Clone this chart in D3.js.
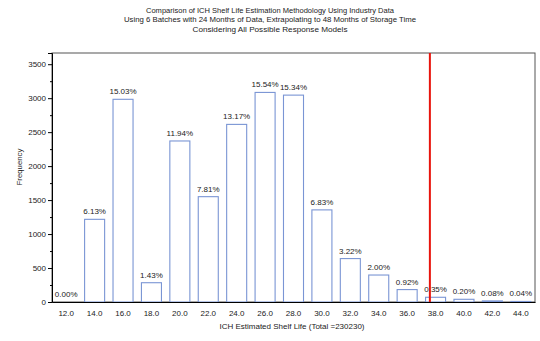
<!DOCTYPE html>
<html>
<head>
<meta charset="utf-8">
<script src="https://cdn.jsdelivr.net/npm/d3@7"></script>
<style>
  html, body { margin: 0; padding: 0; background: #fff; }
  svg { display: block; font-family: "Liberation Sans", Arial, sans-serif; }
</style>
</head>
<body>
<svg id="chart" width="540" height="341"></svg>
<script>
// Histogram bins (months) and the share of simulated shelf-life estimates in each
const binLabels = ["12.0","14.0","16.0","18.0","20.0","22.0","24.0","26.0","28.0","30.0","32.0","34.0","36.0","38.0","40.0","42.0","44.0"];
const binCenters = [12,14,16,18,20,22,24,26,28,30,32,34,36,38,40,42,44];
const percents = [0.00,6.13,15.03,1.43,11.94,7.81,13.17,15.54,15.34,6.83,3.22,2.00,0.92,0.35,0.20,0.08,0.04];
const sampleCount = 19850;          // number of estimates behind the percentages
const referenceLine = 37.6;         // red marker on the shelf-life axis
const yTicks = [0,500,1000,1500,2000,2500,3000,3500];
const yMinorTicks = [250,750,1250,1750,2250,2750,3250];
const titleLines = [
  "Comparison of ICH Shelf Life Estimation Methodology Using Industry Data",
  "Using 6 Batches with 24 Months of Data, Extrapolating to 48 Months of Storage Time",
  "Considering All Possible Response Models"
];
const xTitle = "ICH Estimated Shelf Life (Total =230230)";
const yTitle = "Frequency";

const freqs = percents.map(p => p / 100 * sampleCount);

const svg = d3.select("#chart");
const plot = { left: 52, right: 535, top: 53, bottom: 302 };
const textColor = "#222";

const x = d3.scaleBand()
  .domain(binLabels)
  .range([plot.left, plot.right])
  .paddingInner(0.26)
  .paddingOuter(0.13);

const xLin = d3.scaleLinear()
  .domain([binCenters[0], binCenters[binCenters.length - 1]])
  .range([x(binLabels[0]) + x.bandwidth() / 2, x(binLabels[binLabels.length - 1]) + x.bandwidth() / 2]);

const y = d3.scaleLinear().domain([0, 3665]).range([plot.bottom, plot.top]);

// Title
const titleWidths = [248, 292, 155];
svg.append("g").selectAll("text")
  .data(titleLines)
  .join("text")
  .attr("x", 270)
  .attr("y", (d, i) => 12.5 + i * 9.7)
  .attr("text-anchor", "middle")
  .attr("font-size", 7.8)
  .attr("fill", textColor)
  .attr("textLength", (d, i) => titleWidths[i])
  .attr("lengthAdjust", "spacingAndGlyphs")
  .text(d => d);

// Plot frame
svg.append("rect")
  .attr("x", plot.left).attr("y", plot.top)
  .attr("width", plot.right - plot.left).attr("height", plot.bottom - plot.top)
  .attr("fill", "none").attr("stroke", "#555").attr("stroke-width", 1);

// Bars
svg.append("g").selectAll("rect")
  .data(freqs)
  .join("rect")
  .attr("x", (d, i) => x(binLabels[i]) + 0.5)
  .attr("y", d => y(d))
  .attr("width", x.bandwidth() - 1)
  .attr("height", d => y(0) - y(d))
  .attr("fill", "#fff")
  .attr("stroke", "#7a95d4")
  .attr("stroke-width", 1.1);

// Percentage labels
svg.append("g").selectAll("text")
  .data(percents)
  .join("text")
  .attr("x", (d, i) => x(binLabels[i]) + x.bandwidth() / 2)
  .attr("y", (d, i) => y(freqs[i]) - 5)
  .attr("text-anchor", "middle")
  .attr("font-size", 8)
  .attr("fill", textColor)
  .text(d => d.toFixed(2) + "%");

// Reference line
svg.append("line")
  .attr("x1", xLin(referenceLine)).attr("x2", xLin(referenceLine))
  .attr("y1", plot.top).attr("y2", plot.bottom)
  .attr("stroke", "#e8140c").attr("stroke-width", 2);

// Y axis
const yAxis = d3.axisLeft(y).tickValues(yTicks).tickSize(4).tickPadding(2).tickFormat(d3.format("d"));
const gy = svg.append("g").attr("transform", `translate(${plot.left},0)`).call(yAxis);
gy.select(".domain").attr("stroke", "#000");
gy.selectAll(".tick line").attr("stroke", "#000");
gy.selectAll(".tick text").attr("font-size", 8).attr("fill", textColor)
  .attr("font-family", "Liberation Sans, Arial, sans-serif");
svg.append("g").selectAll("line")
  .data(yMinorTicks)
  .join("line")
  .attr("x1", plot.left - 2).attr("x2", plot.left)
  .attr("y1", d => y(d) + 0.5).attr("y2", d => y(d) + 0.5)
  .attr("stroke", "#000");

// X axis
const xAxis = d3.axisBottom(x).tickSize(0).tickPadding(8);
const gx = svg.append("g").attr("transform", `translate(0,${plot.bottom})`).call(xAxis);
gx.select(".domain").attr("stroke", "#000");
gx.selectAll(".tick text").attr("font-size", 8).attr("fill", textColor)
  .attr("font-family", "Liberation Sans, Arial, sans-serif");

// Axis titles
svg.append("text")
  .attr("x", 292).attr("y", 328.5)
  .attr("text-anchor", "middle")
  .attr("font-size", 7.8)
  .attr("fill", textColor)
  .attr("textLength", 145).attr("lengthAdjust", "spacingAndGlyphs")
  .text(xTitle);

svg.append("text")
  .attr("transform", "translate(21.5,167) rotate(-90)")
  .attr("text-anchor", "middle")
  .attr("font-size", 7.8)
  .attr("fill", textColor)
  .text(yTitle);
</script>
</body>
</html>
